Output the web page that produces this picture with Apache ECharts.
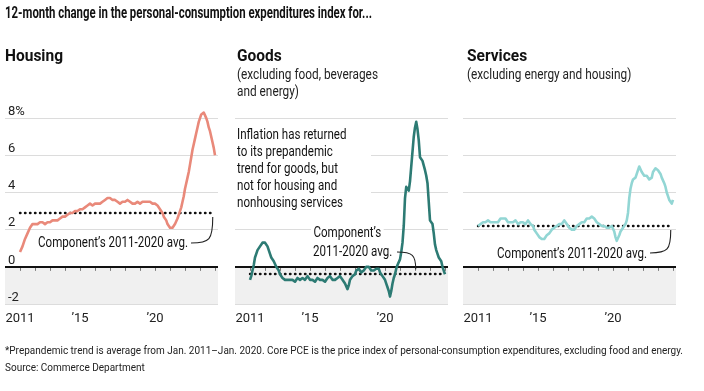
<!DOCTYPE html>
<html><head><meta charset="utf-8">
<script src="https://cdn.jsdelivr.net/npm/echarts@6/dist/echarts.min.js"></script>
<style>html,body{margin:0;padding:0;background:#fff}#c{width:704px;height:391px}</style>
</head><body><div id="c"></div>
<script>
// ---- data (monthly, Jan 2011 - Jan 2024), 12-month % change ----
const startYear = 2011;
const housing = [
  0.8,0.9,1.1,1.3,1.5,1.6,1.8,1.9,2.1,2.2,2.3,2.3,
  2.3,2.4,2.3,2.4,2.4,2.3,2.4,2.4,2.3,2.4,2.4,2.4,
  2.4,2.4,2.5,2.4,2.5,2.5,2.5,2.6,2.6,2.6,2.7,2.7,
  2.7,2.7,2.8,2.8,2.9,2.9,2.9,3.0,3.0,3.0,3.0,3.1,
  3.1,3.1,3.1,3.2,3.2,3.2,3.3,3.3,3.4,3.3,3.3,3.4,
  3.4,3.4,3.4,3.5,3.4,3.5,3.5,3.5,3.6,3.6,3.7,3.7,
  3.7,3.7,3.6,3.6,3.6,3.5,3.5,3.5,3.4,3.4,3.5,3.5,
  3.5,3.5,3.6,3.5,3.5,3.5,3.4,3.4,3.4,3.5,3.5,3.4,
  3.4,3.5,3.5,3.6,3.5,3.5,3.5,3.4,3.5,3.5,3.4,3.4,
  3.4,3.4,3.3,3.2,3.1,3.0,2.9,2.7,2.6,2.5,2.3,2.2,
  2.1,2.1,2.1,2.2,2.3,2.4,2.6,2.8,3.0,3.2,3.5,3.8,
  4.2,4.5,4.8,5.1,5.5,5.9,6.3,6.6,6.9,7.2,7.5,7.8,
  8.0,8.2,8.3,8.3,8.2,8.0,7.8,7.5,7.3,7.0,6.7,6.4,
  6.0
];
const goods = [
  -0.7,-0.5,-0.2,0.1,0.5,0.7,0.9,1.0,1.1,1.2,1.3,1.3,
  1.3,1.2,1.1,0.9,0.7,0.5,0.4,0.3,0.2,0.0,-0.1,-0.2,
  -0.4,-0.5,-0.6,-0.7,-0.7,-0.6,-0.7,-0.6,-0.7,-0.8,-0.7,-0.8,
  -0.8,-0.7,-0.6,-0.7,-0.7,-0.6,-0.6,-0.7,-0.7,-0.6,-0.5,-0.6,
  -0.7,-0.6,-0.7,-0.7,-0.8,-0.7,-0.6,-0.6,-0.7,-0.6,-0.7,-0.7,
  -0.8,-0.7,-0.6,-0.6,-0.5,-0.6,-0.7,-0.6,-0.7,-0.6,-0.6,-0.6,
  -0.5,-0.6,-0.7,-0.8,-0.9,-1.0,-1.2,-1.0,-0.7,-0.6,-0.5,-0.5,
  -0.4,-0.2,-0.1,-0.1,-0.2,-0.3,-0.3,-0.2,-0.1,0.0,0.1,0.0,
  -0.1,-0.2,-0.3,-0.2,-0.1,-0.1,0.0,-0.1,-0.3,-0.4,-0.5,-0.5,
  -0.7,-0.9,-1.1,-1.3,-1.6,-1.3,-0.9,-0.6,-0.4,-0.1,0.1,0.2,
  0.4,0.8,1.3,2.2,3.7,4.3,4.2,4.1,4.6,5.4,6.2,7.0,
  7.5,7.8,7.4,6.8,5.9,5.8,5.7,5.6,5.2,4.9,4.5,3.5,
  2.5,2.4,2.3,1.8,1.2,0.9,0.7,0.5,0.4,0.3,0.0,-0.2,
  -0.4
];
const services = [
  2.2,2.2,2.3,2.3,2.4,2.3,2.4,2.4,2.5,2.4,2.4,2.3,
  2.4,2.3,2.4,2.5,2.4,2.5,2.6,2.5,2.6,2.7,2.6,2.5,
  2.4,2.5,2.4,2.3,2.4,2.4,2.5,2.4,2.3,2.4,2.4,2.5,
  2.4,2.4,2.3,2.4,2.5,2.4,2.3,2.3,2.2,2.0,1.9,1.8,
  1.7,1.6,1.6,1.5,1.6,1.5,1.6,1.7,1.7,1.8,1.9,2.0,
  2.0,2.1,2.2,2.2,2.3,2.3,2.4,2.3,2.4,2.5,2.4,2.3,
  2.2,2.1,2.0,2.0,2.1,2.0,2.1,2.2,2.2,2.3,2.3,2.4,
  2.4,2.4,2.5,2.6,2.6,2.6,2.7,2.7,2.7,2.6,2.5,2.4,
  2.4,2.3,2.3,2.2,2.3,2.2,2.2,2.1,2.2,2.1,2.1,2.2,
  2.1,1.9,1.6,1.4,1.5,1.7,1.9,2.0,2.1,2.2,2.3,2.5,
  2.9,3.7,4.2,4.5,4.7,4.8,4.8,4.9,5.2,5.4,5.3,5.1,
  5.0,4.9,4.9,4.9,4.8,4.7,4.6,4.8,5.1,5.2,5.3,5.2,
  5.2,5.2,5.0,4.8,4.7,4.5,4.3,4.0,3.8,3.6,3.5,3.4,
  3.6
];
const averages = [2.9, -0.35, 2.2];           // component's 2011-2020 avg.
const yTickValues = [-2, 0, 2, 4, 6, 8];
const yTickLabels = ['-2', '0', '2', '4', '6', '8%'];
const xLabelValues = [2011, 2015, 2020];
const xLabels = ['2011', '\u201915', '\u201920'];
const xTickValues = [2011,2012,2013,2014,2015,2016,2017,2018,2019,2020,2021,2022,2023,2024];
const panelTitles = ['Housing', 'Goods', 'Services'];
const panelSubtitles = [[], ['(excluding food, beverages', 'and energy)'], ['(excluding energy and housing)']];
const colors = ['#e9897a', '#2d7b74', '#92d6d4'];
const chartTitle = '12-month change in the personal-consumption expenditures index for...';
const footnote = '*Prepandemic trend is average from Jan. 2011\u2013Jan. 2020. Core PCE is the price index of personal-consumption expenditures, excluding food and energy.';
const source = 'Source: Commerce Department';
const inflationNote = ['Inflation has returned', 'to its prepandemic', 'trend for goods, but', 'not for housing and', 'nonhousing services'];

// ---- chart ----
const FAM = 'Roboto, "Noto Sans", sans-serif';
const months = housing.map((_, i) => startYear + i / 12);
const seriesVals = [housing, goods, services];
const gridLefts = [5, 235, 463];
const chart = echarts.init(document.getElementById('c'), null, {renderer: 'canvas'});

const grids = [], xAxes = [], yAxes = [], series = [];
seriesVals.forEach((vals, i) => {
  grids.push({left: gridLefts[i], top: 107, width: 213, height: 197});
  xAxes.push({
    type: 'value', gridIndex: i, min: 2010, max: 2024.2,
    axisLine: {show: false}, splitLine: {show: false},
    axisTick: {show: true, customValues: xTickValues, length: 4, lineStyle: {color: '#777'}},
    axisLabel: {customValues: xLabelValues, formatter: v => xLabels[xLabelValues.indexOf(v)],
      fontFamily: FAM, fontSize: 13, color: '#222', margin: 8}
  });
  yAxes.push({
    type: 'value', gridIndex: i, min: -2, max: 8.6, interval: 2, z: 2,
    axisLine: {show: false}, axisTick: {show: false},
    splitLine: {show: true, showMaxLine: false, lineStyle: {color: '#dcdcdc', width: 1}},
    axisLabel: {show: i === 0, inside: true, align: 'left', verticalAlign: 'bottom', margin: 3,
      showMaxLabel: false, showMinLabel: true,
      formatter: v => { const k = yTickValues.indexOf(v); return k >= 0 ? yTickLabels[k] : ''; },
      fontFamily: FAM, fontSize: 13, color: '#222'}
  });
  const pts = months.map((m, k) => [m, vals[k]]);
  series.push({
    type: 'line', xAxisIndex: i, yAxisIndex: i, data: pts, z: 1, silent: true,
    showSymbol: false, symbol: 'none', lineStyle: {opacity: 0},
    markArea: {silent: true, z: 0, itemStyle: {color: '#f0f0f0'}, data: [[{yAxis: 0}, {yAxis: -2}]]},
    markLine: {silent: true, z: 3, symbol: 'none', label: {show: false}, animation: false,
      data: [
        {yAxis: 0, lineStyle: {color: '#111', width: 2, type: 'solid'}},
        [{coord: [months[0], averages[i]], lineStyle: {color: '#111', width: 2.4, type: [0.5, 4.5], cap: 'round'}},
         {coord: [months[months.length - 1], averages[i]]}]
      ]}
  });
  series.push({
    type: 'line', xAxisIndex: i, yAxisIndex: i, data: pts, z: 4, silent: true,
    showSymbol: false, symbol: 'none', lineStyle: {color: colors[i], width: 2.6, join: 'round'}
  });
});

chart.setOption({animation: false, grid: grids, xAxis: xAxes, yAxis: yAxes, series: series});

// ---- texts (narrow type emulated by horizontal scaling) ----
const mctx = document.createElement('canvas').getContext('2d');
function measure(s, font) { mctx.font = font; return mctx.measureText(s).width; }
function fontOf(size, weight) { return weight + ' ' + size + 'px ' + FAM; }
function txt(s, x, y, size, weight, sx, extra) {
  return {type: 'text', x: x, y: y, scaleX: sx, z: 60,
    style: Object.assign({text: s, font: fontOf(size, weight), fill: '#111', textVerticalAlign: 'middle'}, extra || {})};
}
function fitScale(s, size, weight, target) { return target / measure(s, fontOf(size, weight)); }

const g = [];
g.push(txt(chartTitle, 5, 14, 16, 'bold', fitScale(chartTitle, 16, 'bold', 367)));
const hdrScale = fitScale('Housing', 16, 'bold', 58);
const subScale = fitScale(panelSubtitles[1][0], 14, 'normal', 141);
panelTitles.forEach((t, i) => {
  const x = i === 0 ? 5 : gridLefts[i] + 2 + (i === 2 ? 2 : 0);
  g.push(txt(t, x, 57, 16, 'bold', hdrScale));
  panelSubtitles[i].forEach((s, k) => g.push(txt(s, x, 75 + k * 17, 14, 'normal', subScale, {fill: '#222'})));
});
const fnScale = fitScale(footnote, 11.5, 'normal', 678);
g.push(txt(footnote, 5, 351, 11.5, 'normal', fnScale, {fill: '#222'}));
g.push(txt(source, 5, 368, 11.5, 'normal', fnScale, {fill: '#222'}));

const annLabel = 'Component\u2019s 2011-2020 avg.';
const annScale = fitScale(annLabel, 14, 'normal', 150);
g.push({type: 'rect', z: 50, shape: {x: 234, y: 125, width: 137, height: 87}, style: {fill: '#fff'}});
inflationNote.forEach((s, k) => g.push(txt(s, 237, 135 + k * 17, 14, 'normal', annScale)));
g.push(txt(annLabel, 38, 243, 14, 'normal', annScale));
g.push(txt(annLabel, 497, 254, 14, 'normal', annScale));
g.push(txt('Component\u2019s', 311, 233, 14, 'normal', annScale, {backgroundColor: '#fff', padding: [1, 3]}));
g.push(txt('2011-2020 avg.', 313, 252, 14, 'normal', annScale));

function leader(gi, from, toData, dir) {
  const p = chart.convertToPixel({gridIndex: gi}, toData);
  const ex = p[0], ey = p[1] + dir * 4;
  return {type: 'bezierCurve', z: 60, shape: {x1: from[0], y1: from[1], cpx1: ex - 3, cpy1: from[1],
    cpx2: ex, cpy2: from[1] - dir * 3, x2: ex, y2: ey}, style: {stroke: '#222', lineWidth: 1.1, fill: null}};
}
const endX = months[months.length - 1] - 0.15;
g.push(leader(0, [191, 243], [endX, averages[0]], 1));
g.push(leader(1, [397, 252], [2022.05, averages[1]], -1));
g.push(leader(2, [650, 253], [endX, averages[2]], 1));
chart.setOption({graphic: g});
</script></body></html>
